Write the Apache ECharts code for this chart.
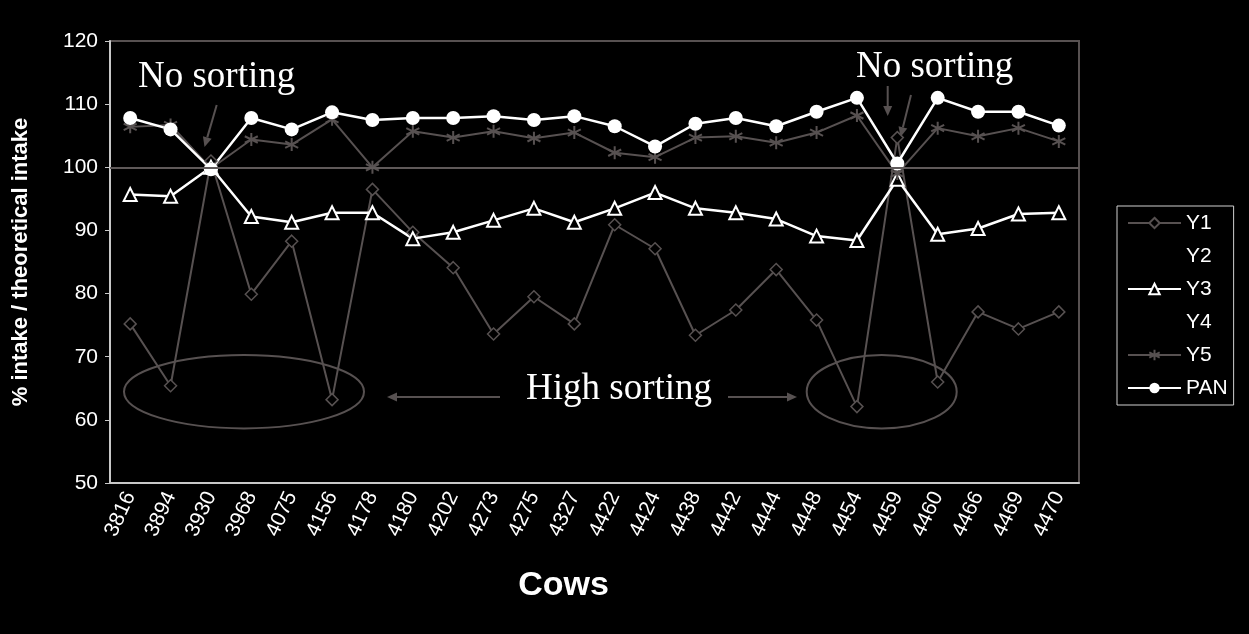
<!DOCTYPE html>
<html>
<head>
<meta charset="utf-8">
<script src="https://cdn.jsdelivr.net/npm/echarts@6/dist/echarts.min.js"></script>
<style>
  html, body { margin: 0; padding: 0; background: #000; }
  #chart { width: 1249px; height: 634px; }
</style>
</head>
<body>
<div id="chart"></div>
<script>
const cows = ['3816', '3894', '3930', '3968', '4075', '4156', '4178', '4180', '4202', '4273', '4275', '4327',
  '4422', '4424', '4438', '4442', '4444', '4448', '4454', '4459', '4460', '4466', '4469', '4470']
const y1 = [75.2, 65.4, 101.0, 79.9, 88.3, 63.2, 96.5, 89.7, 84.1, 73.6, 79.5, 75.2,
  90.9, 87.1, 73.4, 77.4, 83.8, 75.8, 62.1, 104.7, 66.0, 77.1, 74.4, 77.1]
const y2 = []
const y3 = [95.7, 95.4, 100.0, 92.2, 91.3, 92.8, 92.8, 88.7, 89.7, 91.6, 93.5, 91.3,
  93.5, 96.0, 93.5, 92.8, 91.8, 89.1, 88.4, 98.1, 89.4, 90.3, 92.6, 92.8]
const y4 = []
const y5 = [106.4, 106.7, 99.8, 104.4, 103.6, 107.6, 100.0, 105.7, 104.7, 105.7, 104.6, 105.5,
  102.3, 101.6, 104.7, 104.9, 103.9, 105.5, 108.2, 99.0, 106.2, 104.9, 106.2, 104.1]
const pan = [107.8, 106.0, 99.7, 107.8, 106.0, 108.7, 107.5, 107.8, 107.8, 108.1, 107.5, 108.1,
  106.5, 103.3, 106.9, 107.8, 106.5, 108.8, 111.0, 100.6, 111.0, 108.8, 108.8, 106.6]
const yTicks = { min: 50, max: 120, interval: 10 }

const grey = '#575151'
const sans = 'Liberation Sans, Arial, sans-serif'
const serif = 'Liberation Serif, Times New Roman, serif'
const asterisk = 'path://M5 0L5 10M0.7 2.5L9.3 7.5M0.7 7.5L9.3 2.5'

// arrow = line + filled head
function arrow(x1, y1, x2, y2) {
  const a = Math.atan2(y2 - y1, x2 - x1)
  const len = 10, w = 4.5
  const bx = x2 - len * Math.cos(a), by = y2 - len * Math.sin(a)
  return [
    { type: 'line', shape: { x1: x1, y1: y1, x2: bx, y2: by }, style: { stroke: grey, lineWidth: 2 } },
    {
      type: 'polygon',
      shape: { points: [[x2, y2], [bx + w * Math.sin(a), by - w * Math.cos(a)], [bx - w * Math.sin(a), by + w * Math.cos(a)]] },
      style: { fill: grey }
    }
  ]
}

function label(text, x, y) {
  return { type: 'text', x: x, y: y, style: { text: text, fill: '#fff', font: '37px ' + serif, textVerticalAlign: 'bottom' } }
}

const chart = echarts.init(document.getElementById('chart'))
chart.setOption({
  backgroundColor: '#000',
  animation: false,
  grid: {
    left: 110, right: 170, top: 41, bottom: 151,
    show: true, borderColor: grey, borderWidth: 2
  },
  legend: {
    orient: 'vertical',
    left: 1117,
    top: 206,
    data: ['Y1', 'Y2', 'Y3', 'Y4', 'Y5', 'PAN'],
    itemWidth: 53,
    itemHeight: 13,
    itemGap: 11,
    padding: [6, 6, 6, 10],
    borderColor: '#d0d0d0',
    borderWidth: 1,
    textStyle: { color: '#fff', fontSize: 21, fontFamily: sans, lineHeight: 22 }
  },
  xAxis: {
    type: 'category',
    data: cows,
    name: 'Cows',
    nameLocation: 'middle',
    nameGap: 86,
    nameTextStyle: { color: '#fff', fontSize: 34, fontWeight: 'bold', fontFamily: sans, padding: [0, 62, 0, 0] },
    axisLine: { lineStyle: { color: '#c8c8c8', width: 2 } },
    axisTick: { lineStyle: { color: '#c8c8c8' }, length: 5 },
    axisLabel: { color: '#fff', fontSize: 21, fontFamily: sans, rotate: 65, margin: 10 }
  },
  yAxis: {
    type: 'value',
    min: yTicks.min,
    max: yTicks.max,
    interval: yTicks.interval,
    name: '% intake / theoretical intake',
    nameLocation: 'middle',
    nameGap: 78,
    nameTextStyle: { color: '#fff', fontSize: 22, fontWeight: 'bold', fontFamily: sans },
    axisLine: { show: true, lineStyle: { color: '#c8c8c8', width: 2 } },
    axisTick: { show: true, lineStyle: { color: '#c8c8c8' }, length: 5 },
    axisLabel: { color: '#fff', fontSize: 21, fontFamily: sans, margin: 12 },
    splitLine: { show: false }
  },
  series: [
    {
      name: 'Y1', type: 'line', data: y1,
      symbol: 'diamond', symbolSize: 12,
      itemStyle: { color: '#000', borderColor: grey, borderWidth: 1.5 },
      lineStyle: { color: grey, width: 2 }
    },
    {
      name: 'Y2', type: 'line', data: y2, symbol: 'none',
      itemStyle: { color: 'rgba(0,0,0,0)' },
      lineStyle: { color: 'rgba(0,0,0,0)' },
      markLine: {
        silent: true, symbol: 'none', label: { show: false },
        lineStyle: { color: '#5f5959', width: 2, type: 'solid' },
        data: [{ yAxis: 100 }]
      }
    },
    {
      name: 'Y3', type: 'line', data: y3,
      symbol: 'triangle', symbolSize: 13,
      itemStyle: { color: '#000', borderColor: '#fff', borderWidth: 2 },
      lineStyle: { color: '#fff', width: 2.5 }
    },
    {
      name: 'Y4', type: 'line', data: y4, symbol: 'none',
      itemStyle: { color: 'rgba(0,0,0,0)' },
      lineStyle: { color: 'rgba(0,0,0,0)' }
    },
    {
      name: 'Y5', type: 'line', data: y5,
      symbol: asterisk, symbolSize: 13,
      itemStyle: { color: grey, borderColor: grey, borderWidth: 2 },
      lineStyle: { color: grey, width: 2 }
    },
    {
      name: 'PAN', type: 'line', data: pan,
      symbol: 'circle', symbolSize: 14,
      itemStyle: { color: '#fff' },
      lineStyle: { color: '#fff', width: 2.5 }
    }
  ],
  graphic: [
    label('No sorting', 138, 96),
    label('No sorting', 856, 86),
    label('High sorting', 526, 408),
    ...arrow(216.7, 105, 204.5, 147),
    ...arrow(887.7, 86, 887.7, 116),
    ...arrow(911, 95, 900.5, 137),
    ...arrow(500, 397, 387, 397),
    ...arrow(728, 397, 797, 397),
    { type: 'ellipse', shape: { cx: 244, cy: 391.7, rx: 120, ry: 36.7 }, style: { fill: null, stroke: grey, lineWidth: 2 } },
    { type: 'ellipse', shape: { cx: 881.7, cy: 391.7, rx: 75, ry: 36.7 }, style: { fill: null, stroke: grey, lineWidth: 2 } }
  ]
})
</script>
</body>
</html>
